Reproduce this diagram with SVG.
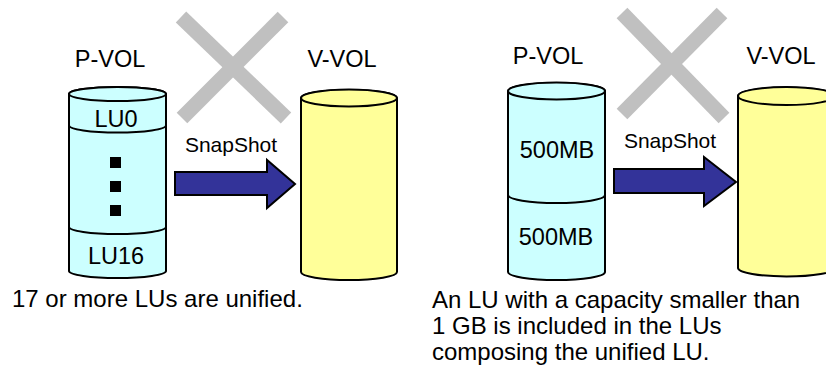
<svg xmlns="http://www.w3.org/2000/svg" width="826" height="376" viewBox="0 0 826 376">
<style>
text{font-family:"Liberation Sans",Arial,sans-serif;fill:#000}
.lbl{font-size:23.5px}
.snap{font-size:21px}
.cap{font-size:24px}
.pv{fill:#ccffff;stroke:#000;stroke-width:2}
.vv{fill:#ffff99;stroke:#000;stroke-width:2}
.div{fill:none;stroke:#000;stroke-width:2}
.x{stroke:#c0c0c0;stroke-width:15;stroke-linecap:butt}
.arr{fill:#333399;stroke:#000;stroke-width:2;stroke-linejoin:miter}
</style>
<g id="cross-left"><line class="x" x1="181" y1="17" x2="286" y2="118"/><line class="x" x1="283" y1="17" x2="182" y2="118"/></g>
<g id="cross-right"><line class="x" x1="622" y1="13" x2="724" y2="118"/><line class="x" x1="722" y1="13" x2="622" y2="114"/></g>
<g id="pvol-left">
<text class="lbl" x="110" y="67" text-anchor="middle">P-VOL</text>
<path class="pv" d="M69,94 V271 A48.5,7 0 0 0 166,271 V94 A48.5,7 0 0 0 69,94 Z"/>
<ellipse class="pv" cx="117.5" cy="94" rx="48.5" ry="7"/>
<path class="div" d="M69,125.5 A48.5,7 0 0 0 166,125.5"/>
<path class="div" d="M69,227 A48.5,7 0 0 0 166,227"/>
<text class="lbl" x="116" y="127" text-anchor="middle">LU0</text>
<rect x="110" y="157" width="11" height="11"/>
<rect x="110" y="181" width="11" height="11"/>
<rect x="110" y="205" width="11" height="11"/>
<text class="lbl" x="116" y="264" text-anchor="middle">LU16</text>
</g>
<g id="vvol-left">
<text class="lbl" x="342" y="67" text-anchor="middle">V-VOL</text>
<path class="vv" d="M301,98 V272 A48,8 0 0 0 397,272 V98 A48,8 0 0 0 301,98 Z"/>
<ellipse class="vv" cx="349" cy="98" rx="48" ry="8.5"/>
</g>
<g id="pvol-right">
<text class="lbl" x="548" y="64" text-anchor="middle">P-VOL</text>
<path class="pv" d="M508,91 V272 A48.5,8 0 0 0 605,272 V91 A48.5,8 0 0 0 508,91 Z"/>
<ellipse class="pv" cx="556.5" cy="91" rx="48.5" ry="8.5"/>
<path class="div" d="M508,195 A48.5,8 0 0 0 605,195"/>
<text class="lbl" x="557" y="158" text-anchor="middle">500MB</text>
<text class="lbl" x="556" y="245" text-anchor="middle">500MB</text>
</g>
<g id="vvol-right">
<text class="lbl" x="781" y="64" text-anchor="middle">V-VOL</text>
<path class="vv" d="M738,96 V268 A48.5,8.5 0 0 0 835,268 V96 A48.5,8.5 0 0 0 738,96 Z"/>
<ellipse class="vv" cx="786.5" cy="96" rx="48.5" ry="9"/>
</g>
<g id="connectors">
<path class="arr" d="M175,172 H267 V160 L295,184 L267,208 V195 H175 Z"/>
<text class="snap" x="231" y="152" text-anchor="middle">SnapShot</text>
<path class="arr" d="M614,169 H704 V157 L736,182 L704,206 V193 H614 Z"/>
<text class="snap" x="670" y="148" text-anchor="middle">SnapShot</text>
</g>
<g id="captions">
<text class="cap" x="12" y="307">17 or more LUs are unified.</text>
<text class="cap" x="432" y="308">An LU with a capacity smaller than</text>
<text class="cap" x="432" y="334">1 GB is included in the LUs</text>
<text class="cap" x="432" y="360">composing the unified LU.</text>
</g>
</svg>
